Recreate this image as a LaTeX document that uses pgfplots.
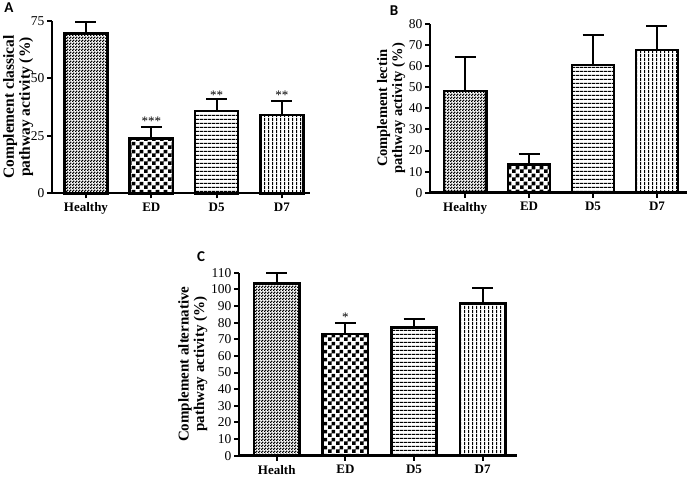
\documentclass[border=0pt]{standalone}
\usepackage{fontspec}
\setmainfont{Liberation Serif}
\newfontfamily\letterfont{Carlito}
\usepackage{pgfplots}
\pgfplotsset{compat=1.18}
\usetikzlibrary{patterns}

\pgfdeclarepatternformonly{fineck}{\pgfqpoint{0bp}{0bp}}{\pgfqpoint{3bp}{3bp}}{\pgfqpoint{3bp}{3bp}}{%
  \pgfpathrectangle{\pgfqpoint{0bp}{0bp}}{\pgfqpoint{1.7bp}{1.7bp}}%
  \pgfpathrectangle{\pgfqpoint{1.5bp}{1.5bp}}{\pgfqpoint{1.7bp}{1.7bp}}%
  \pgfusepath{fill}}
\pgfdeclarepatternformonly{coarseck}{\pgfqpoint{0bp}{0bp}}{\pgfqpoint{8bp}{8bp}}{\pgfqpoint{8bp}{8bp}}{%
  \pgfpathrectangle{\pgfqpoint{0bp}{0bp}}{\pgfqpoint{4bp}{4bp}}%
  \pgfpathrectangle{\pgfqpoint{4bp}{4bp}}{\pgfqpoint{4bp}{4bp}}%
  \pgfusepath{fill}}
\pgfdeclarepatternformonly{hlines}{\pgfqpoint{0bp}{0bp}}{\pgfqpoint{4bp}{3.7bp}}{\pgfqpoint{4bp}{3.7bp}}{%
  \pgfpathrectangle{\pgfqpoint{0bp}{0bp}}{\pgfqpoint{4bp}{1.3bp}}%
  \pgfusepath{fill}}
\pgfdeclarepatternformonly{vlines}{\pgfqpoint{0bp}{0bp}}{\pgfqpoint{4bp}{4bp}}{\pgfqpoint{4bp}{4bp}}{%
  \pgfpathrectangle{\pgfqpoint{0bp}{0bp}}{\pgfqpoint{1.3bp}{4bp}}%
  \pgfusepath{fill}}

\pgfplotsset{
  panel/.style={
    scale only axis,
    anchor=south west,
    axis x line*=bottom, axis y line*=left,
    axis line style={-, line width=2.4bp, black},
    tick align=outside,
    major tick length=5bp,
    tick style={line width=2bp, black},
    xtick={0,1,2,3},
    ymin=0,
    clip=false,
    /pgf/number format/assume math mode=true,
    yticklabel style={font=\fontsize{13.5bp}{13.5bp}\selectfont, xshift=1bp},
    xticklabel style={font=\bfseries\fontsize{13bp}{13bp}\selectfont, yshift=-1bp},
  },
  hbar/.style={ybar, bar width=0.66, bar shift=0pt, draw=black, line width=2.6bp,
    error bars/.cd, y dir=plus, y explicit,
    error bar style={line width=2bp, black, solid},
    error mark options={rotate=90, mark size=10.5bp, line width=2bp, black, solid}},
}

\begin{document}
\begin{tikzpicture}
\path[use as bounding box] (0,0) rectangle (691bp,477bp);

% Panel A
\begin{axis}[panel, at={(52bp,283.7bp)}, width=258bp, height=172.6bp,
  xmin=-0.52, xmax=3.43, ymax=75, ytick={0,25,50,75},
  xticklabels={Healthy,ED,D5,D7},
  ylabel style={align=center, font=\bfseries\fontsize{15.5bp}{16bp}\selectfont, yshift=-9bp},
  ylabel={Complement classical\\pathway activity (\%)}]
\addplot[pattern=fineck, hbar] coordinates {(0,69.5) +- (0,4.8)};
\addplot[pattern=coarseck, hbar] coordinates {(1,23.9) +- (0,5.0)};
\addplot[pattern=hlines, hbar] coordinates {(2,35.8) +- (0,5.2)};
\addplot[pattern=vlines, hbar] coordinates {(3,34.0) +- (0,6.1)};
\node[font=\fontsize{13bp}{13bp}\selectfont] at (axis cs:1,31.5) {***};
\node[font=\fontsize{13bp}{13bp}\selectfont] at (axis cs:2,42.7) {**};
\node[font=\fontsize{13bp}{13bp}\selectfont] at (axis cs:3,42.7) {**};
\end{axis}

% Panel B
\begin{axis}[panel, at={(430bp,284.3bp)}, width=257bp, height=168.7bp,
  xmin=-0.55, xmax=3.47, ymax=80, ytick={0,10,...,80},
  xticklabels={Healthy,ED,D5,D7},
  ylabel style={align=center, font=\bfseries\fontsize{14.5bp}{15bp}\selectfont, yshift=-3bp},
  ylabel={Complement lectin\\pathway activity (\%)}]
\addplot[pattern=fineck, hbar] coordinates {(0,48.2) +- (0,16.0)};
\addplot[pattern=coarseck, hbar] coordinates {(1,13.3) +- (0,5.1)};
\addplot[pattern=hlines, hbar] coordinates {(2,60.6) +- (0,14.3)};
\addplot[pattern=vlines, hbar] coordinates {(3,67.7) +- (0,11.5)};
\end{axis}

% Panel C
\begin{axis}[panel, at={(239bp,21.3bp)}, width=278bp, height=183bp,
  xmin=-0.55, xmax=3.5, ymax=110, ytick={0,10,...,110},
  xticklabels={Health,ED,D5,D7},
  ylabel style={align=center, font=\bfseries\fontsize{15bp}{15.5bp}\selectfont, yshift=-3bp},
  ylabel={Complement alternative\\pathway activity (\%)}]
\addplot[pattern=fineck, hbar] coordinates {(0,103.6) +- (0,6.4)};
\addplot[pattern=coarseck, hbar] coordinates {(1,73.2) +- (0,6.4)};
\addplot[pattern=hlines, hbar] coordinates {(2,77.2) +- (0,5.2)};
\addplot[pattern=vlines, hbar] coordinates {(3,91.6) +- (0,9.0)};
\node[font=\fontsize{13bp}{13bp}\selectfont] at (axis cs:1,83.4) {*};
\end{axis}

\node[font=\letterfont\bfseries\fontsize{15bp}{15bp}\selectfont] at (9bp,469bp) {A};
\node[font=\letterfont\bfseries\fontsize{15bp}{15bp}\selectfont] at (394bp,466bp) {B};
\node[font=\letterfont\bfseries\fontsize{15bp}{15bp}\selectfont] at (201bp,220bp) {C};
\end{tikzpicture}
\end{document}
